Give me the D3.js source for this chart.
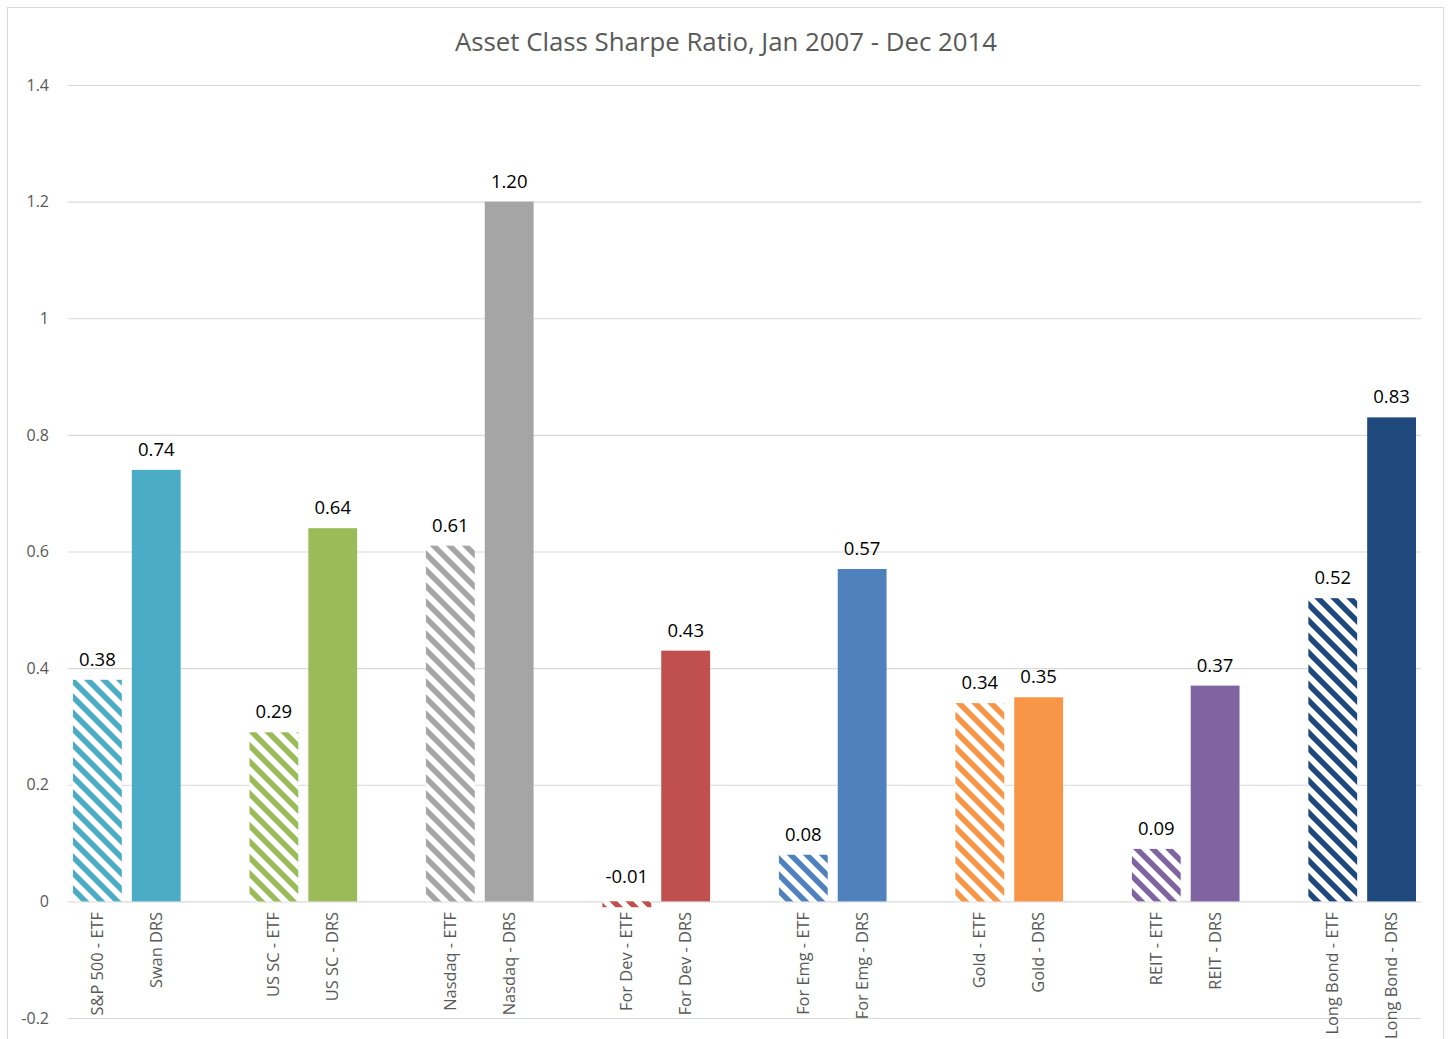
<!DOCTYPE html>
<html>
<head>
<meta charset="utf-8">
<script src="https://cdn.jsdelivr.net/npm/d3@7"></script>
<style>
  html, body { margin: 0; padding: 0; background: #ffffff; }
  svg { display: block; }
</style>
</head>
<body>
<svg id="chart" width="1450" height="1039"></svg>
<script>
// ---- data ----
const groups = ["S&P 500", "US SC", "Nasdaq", "For Dev", "For Emg", "Gold", "REIT", "Long Bond"];
const etfLabels = ["S&P 500 - ETF", "US SC - ETF", "Nasdaq - ETF", "For Dev - ETF", "For Emg - ETF", "Gold - ETF", "REIT - ETF", "Long Bond - ETF"];
const drsLabels = ["Swan DRS", "US SC - DRS", "Nasdaq - DRS", "For Dev - DRS", "For Emg - DRS", "Gold - DRS", "REIT - DRS", "Long Bond - DRS"];
const etfValues = [0.38, 0.29, 0.61, -0.01, 0.08, 0.34, 0.09, 0.52];
const drsValues = [0.74, 0.64, 1.20, 0.43, 0.57, 0.35, 0.37, 0.83];
const groupColors = ["#4BACC6", "#9BBB59", "#A5A5A5", "#C0504D", "#4F81BD", "#F79646", "#8064A2", "#1F497D"];
const yTicks = [-0.2, 0, 0.2, 0.4, 0.6, 0.8, 1.0, 1.2, 1.4];
const yTickLabels = ["-0.2", "0", "0.2", "0.4", "0.6", "0.8", "1", "1.2", "1.4"];
const title = "Asset Class Sharpe Ratio, Jan 2007 - Dec 2014";

// ---- build category slots (two bars per group, blank slot between groups) ----
const bars = [];
const slots = [];
groups.forEach((g, i) => {
  bars.push({ key: "e" + i, label: etfLabels[i], value: etfValues[i], color: groupColors[i], hatched: true, gi: i });
  slots.push("e" + i);
  bars.push({ key: "d" + i, label: drsLabels[i], value: drsValues[i], color: groupColors[i], hatched: false, gi: i });
  slots.push("d" + i);
  if (i < groups.length - 1) slots.push("gap" + i);
});

const svg = d3.select("#chart");
const FONT = "'Open Sans', 'Noto Sans', sans-serif";

// chart border
svg.append("rect")
  .attr("x", 7.5).attr("y", 7.5)
  .attr("width", 1436).attr("height", 1045)
  .attr("fill", "#ffffff").attr("stroke", "#d9d9d9").attr("stroke-width", 1);

const plotLeft = 68, plotRight = 1421;
const x = d3.scaleBand().domain(slots).range([plotLeft, plotRight]).paddingInner(0.17).paddingOuter(0.085);
const y = d3.scaleLinear().domain([-0.2, 1.4]).range([1018, 85]);

// patterns
const defs = svg.append("defs");
groupColors.forEach((c, i) => {
  const p = defs.append("pattern")
    .attr("id", "hatch" + i)
    .attr("patternUnits", "userSpaceOnUse")
    .attr("width", 16).attr("height", 16);
  p.append("rect").attr("width", 16).attr("height", 16).attr("fill", "#ffffff");
  p.append("path")
    .attr("d", "M-4,-4 L20,20 M-4,12 L4,20 M12,-4 L20,4")
    .attr("stroke", c).attr("stroke-width", 5.5).attr("fill", "none");
});

// gridlines
const yAxis = d3.axisLeft(y).tickValues(yTicks).tickSize(-(plotRight - plotLeft))
  .tickFormat((d, i) => yTickLabels[i]).tickPadding(19);
const gy = svg.append("g").attr("transform", `translate(${plotLeft},0)`).call(yAxis);
gy.select(".domain").remove();
gy.selectAll(".tick line").attr("stroke", "#d9d9d9").attr("stroke-width", 1.2);
gy.selectAll(".tick text").attr("fill", "#595959").style("font-family", FONT).style("font-size", "16px");

// bars
svg.append("g").selectAll("rect").data(bars).join("rect")
  .attr("x", d => x(d.key))
  .attr("width", x.bandwidth())
  .attr("y", d => y(Math.max(0, d.value)))
  .attr("height", d => Math.abs(y(d.value) - y(0)))
  .attr("fill", d => d.hatched ? `url(#hatch${d.gi})` : d.color);

// value labels
svg.append("g").selectAll("text").data(bars).join("text")
  .attr("x", d => x(d.key) + x.bandwidth() / 2)
  .attr("y", d => d.value >= 0 ? y(d.value) - 14 : y(0) - 18)
  .attr("text-anchor", "middle")
  .attr("fill", "#000000")
  .style("font-family", FONT).style("font-size", "18.5px")
  .text(d => d.value.toFixed(2));

// category labels (rotated)
svg.append("g").selectAll("text").data(bars).join("text")
  .attr("transform", d => `translate(${x(d.key) + x.bandwidth() / 2 + 5.5},912) rotate(-90)`)
  .attr("text-anchor", "end")
  .attr("fill", "#595959")
  .style("font-family", FONT).style("font-size", "16.4px")
  .text(d => d.label);

// title
svg.append("text")
  .attr("x", 726).attr("y", 51)
  .attr("text-anchor", "middle")
  .attr("fill", "#595959")
  .style("font-family", FONT).style("font-size", "25.8px")
  .text(title);
</script>
</body>
</html>
